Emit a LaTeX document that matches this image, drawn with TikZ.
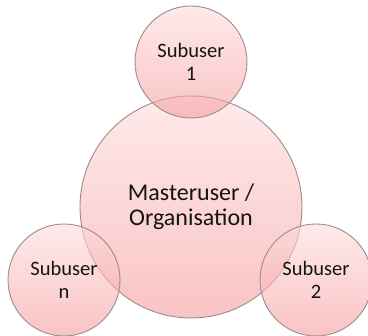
\documentclass[tikz,border=0pt]{standalone}
\usepackage{fontspec}
\setmainfont{Carlito}
\definecolor{edgegray}{RGB}{158,138,138}
\definecolor{pinktop}{RGB}{255,220,220}
\definecolor{pinkbot}{RGB}{245,155,158}
\definecolor{txt}{RGB}{20,20,20}
\begin{document}
\begin{tikzpicture}[x=1pt,y=1pt,
  bubble/.style={circle, draw=edgegray, line width=0.9pt,
    top color=pinktop, bottom color=pinkbot,
    fill opacity=0.6, draw opacity=1, text opacity=1, inner sep=0pt, align=center,
    text=txt},
  small/.style={bubble, minimum size=112pt, font=\fontsize{20.5}{23}\selectfont},
  big/.style={bubble, minimum size=222pt, font=\fontsize{24}{25}\selectfont}]
\useasboundingbox (0,0) rectangle (368,336);
\node[big] (m) at (191,129) {Masteruser /\\Organisation};
\node[small] (s1) at (191,274) {Subuser\\1};
\node[small] (sn) at (64,56) {Subuser\\n};
\node[small] (s2) at (316,56) {Subuser\\2};
\end{tikzpicture}
\end{document}
